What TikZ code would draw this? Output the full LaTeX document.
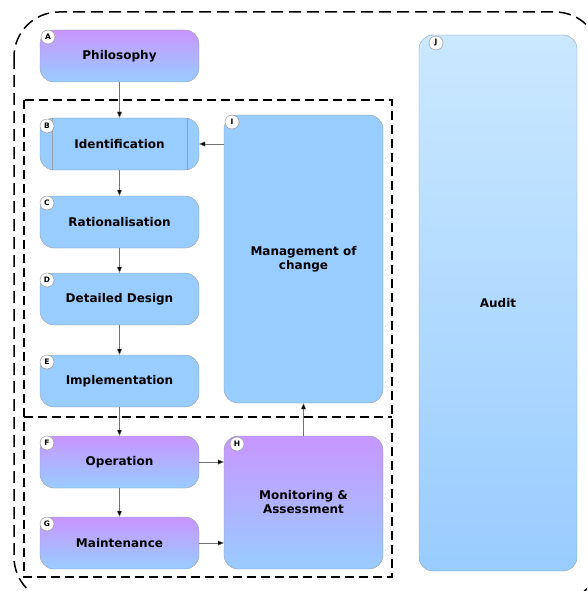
\documentclass[tikz,border=0pt]{standalone}
\usepackage{fontspec}
\setmainfont{DejaVu Sans}
\usetikzlibrary{arrows.meta}

\definecolor{skyblue}{RGB}{153,204,255}
\definecolor{paleblue}{RGB}{202,232,255}
\definecolor{lilac}{RGB}{200,150,255}
\definecolor{rimgray}{RGB}{150,160,175}

\tikzset{
  stage/.style={draw=rimgray, rounded corners=14pt, minimum width=159pt, minimum height=52pt,
    align=center, inner sep=0pt, font=\bfseries\fontsize{12}{14}\selectfont},
  bluestage/.style={stage, fill=skyblue},
  mixstage/.style={stage, top color=lilac, bottom color=skyblue},
  tag/.style={circle, draw=black!45, fill=white, minimum size=14pt, inner sep=0pt,
    font=\bfseries\fontsize{7.5}{8}\selectfont},
  flow/.style={draw=black!55, -{Triangle[length=6pt,width=5pt,fill=black]}},
  zone/.style={dash pattern=on 9pt off 5pt, line width=1.3pt},
}

\begin{document}
\begin{tikzpicture}[x=1pt, y=-1pt]
  \useasboundingbox (0,0) rectangle (587,591);
  \clip (0,0) rectangle (587,591);

  % dashed groups
  \draw[line width=1.5pt, dash pattern=on 12pt off 6pt, rounded corners=45pt] (14,12) rectangle (600,602);
  \draw[zone] (24,100) rectangle (392,577);
  \draw[zone] (24,417) -- (392,417);

  % stages
  \node[mixstage] (philo) at (119.5,56) {Philosophy};
  \node[bluestage] (ident) at (119.5,144) {Identification};
  \draw[rimgray] ([xshift=12pt]ident.north west) -- ([xshift=12pt]ident.south west);
  \draw[rimgray] ([xshift=-12pt]ident.north east) -- ([xshift=-12pt]ident.south east);
  \node[bluestage] (ration) at (119.5,222) {Rationalisation};
  \node[bluestage] (design) at (119.5,299) {Detailed Design};
  \node[bluestage] (implem) at (119.5,381) {Implementation};
  \node[mixstage] (oper) at (119.5,462) {Operation};
  \node[mixstage] (maint) at (119.5,543) {Maintenance};
  \node[bluestage, minimum height=288pt] (change) at (303.5,259) {Management of\\change};
  \node[mixstage, minimum height=133pt] (monit) at (303.5,502.5) {Monitoring \&\\Assessment};
  \node[stage, minimum width=158pt, minimum height=536pt, top color=paleblue, bottom color=skyblue] (audit) at (498,303) {Audit};

  % letters
  \node[tag] (tagA) at (48,37) {A};
  \node[tag] (tagB) at (47,126) {B};
  \node[tag] (tagC) at (47,203) {C};
  \node[tag] (tagD) at (47,280) {D};
  \node[tag] (tagE) at (47,362) {E};
  \node[tag] (tagF) at (47,443) {F};
  \node[tag] (tagG) at (47,524) {G};
  \node[tag] (tagH) at (237,444) {H};
  \node[tag] (tagI) at (232,122) {I};
  \node[tag] (tagJ) at (436,43) {J};

  % connectors
  \draw[flow] (philo) -- (ident);
  \draw[flow] (ident) -- (ration);
  \draw[flow] (ration) -- (design);
  \draw[flow] (design) -- (implem);
  \draw[flow] (implem) -- (oper);
  \draw[flow] (oper) -- (maint);
  \draw[flow] (oper.east) -- (oper.east -| monit.west);
  \draw[flow] (maint.east) -- (maint.east -| monit.west);
  \draw[flow] (monit) -- (change);
  \draw[flow] (ident.east -| change.west) -- (ident.east);
\end{tikzpicture}
\end{document}
